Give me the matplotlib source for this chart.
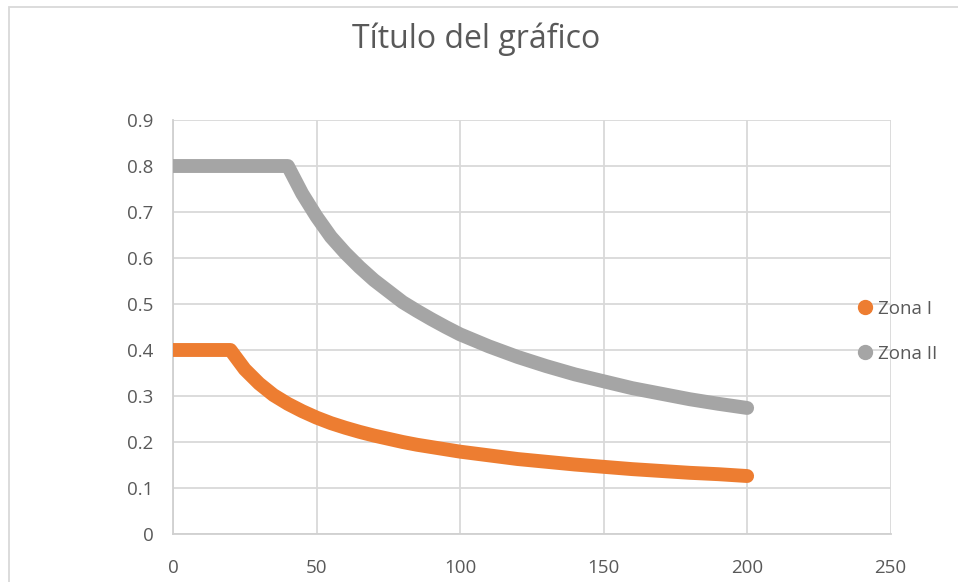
import matplotlib
matplotlib.use('Agg')
import matplotlib.pyplot as plt
from matplotlib.lines import Line2D
from matplotlib.patches import Rectangle

plt.rcParams['font.family'] = ['Open Sans', 'DejaVu Sans']

# datos
x_zona1 = [0, 5, 10, 15, 20, 25, 30, 35, 40, 45, 50, 55, 60, 65, 70, 75, 80, 85, 90, 95, 100,
           110, 120, 130, 140, 150, 160, 170, 180, 190, 200]
y_zona1 = [0.4, 0.4, 0.4, 0.4, 0.4, 0.358, 0.327, 0.302, 0.283, 0.267, 0.253, 0.241, 0.231, 0.222,
           0.214, 0.207, 0.2, 0.194, 0.189, 0.184, 0.179, 0.171, 0.163, 0.157, 0.151, 0.146, 0.141,
           0.137, 0.133, 0.13, 0.126]

x_zona2 = [0, 5, 10, 15, 20, 25, 30, 35, 40, 45, 50, 55, 60, 65, 70, 75, 80, 85, 90, 95, 100,
           110, 120, 130, 140, 150, 160, 170, 180, 190, 200]
y_zona2 = [0.8, 0.8, 0.8, 0.8, 0.8, 0.8, 0.8, 0.8, 0.8, 0.74, 0.69, 0.646, 0.611, 0.58, 0.552,
           0.528, 0.504, 0.485, 0.467, 0.45, 0.434, 0.408, 0.385, 0.365, 0.347, 0.332, 0.317,
           0.305, 0.293, 0.283, 0.274]

nombres = ['Zona I', 'Zona II']
colores = ['#ED7D31', '#A5A5A5']

fig = plt.figure(figsize=(9.58, 5.82), dpi=100)
ax = fig.add_axes([0.1806, 0.0825, 0.7491, 0.7113])

ax.plot(x_zona1, y_zona1, color=colores[0], linewidth=10,
        solid_capstyle='round', solid_joinstyle='round', zorder=3)
ax.plot(x_zona2, y_zona2, color=colores[1], linewidth=10,
        solid_capstyle='round', solid_joinstyle='round', zorder=3)

ax.set_xlim(0, 250)
ax.set_ylim(0, 0.9)
ax.set_xticks(range(0, 251, 50))
ax.set_yticks([i / 10 for i in range(10)])
ax.set_yticklabels(['0'] + [f'0.{i}' for i in range(1, 10)])
ax.grid(color='#D9D9D9', linewidth=1.3)
ax.set_axisbelow(True)
for s in ['top', 'right']:
    ax.spines[s].set_visible(False)
for s in ['left', 'bottom']:
    ax.spines[s].set_color('#D0D0D0')
    ax.spines[s].set_linewidth(1.3)
ax.tick_params(length=0, labelsize=13.5, colors='#595959', pad=14)
ax.tick_params(axis='x', pad=18)

fig.text(0.497, 0.932, 'Título del gráfico', ha='center', va='center',
         fontsize=23, color='#595959')

handles = [Line2D([], [], linestyle='none', marker='o', markersize=10,
                  color=c) for c in colores]
fig.legend(handles, nombres, loc='center left', bbox_to_anchor=(0.8755, 0.431),
           frameon=False, fontsize=13.5, labelcolor='#595959', handletextpad=0.2,
           labelspacing=1.45, handlelength=1.0)

fig.patches.append(Rectangle((9 / 958, -0.1), 1.2, 1.1 - 7 / 582, transform=fig.transFigure,
                             fill=False, edgecolor='#D9D9D9', linewidth=1.3))

fig.savefig('out.png', dpi=100)
